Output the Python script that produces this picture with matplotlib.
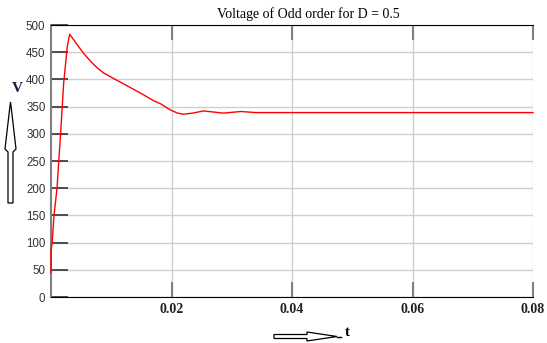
import matplotlib
matplotlib.use("Agg")
import matplotlib.pyplot as plt
from matplotlib.patches import Polygon
from matplotlib.transforms import IdentityTransform

t = [0, 0, 0.0002, 0.0005, 0.001, 0.0013, 0.0016, 0.0021, 0.0027, 0.0031,
     0.0042, 0.0054, 0.0066, 0.0077, 0.0087, 0.011, 0.013, 0.015, 0.017,
     0.0182, 0.0198, 0.021, 0.022, 0.0235, 0.0253, 0.027, 0.0286, 0.0315,
     0.034, 0.08]
v = [45, 85, 101, 150, 200, 252, 301, 393, 460, 483,
     466, 448, 433, 421, 412, 398, 386, 374, 361,
     355, 344, 338, 336, 338, 342, 340, 338, 341,
     339, 339]
xticks = [0.02, 0.04, 0.06, 0.08]
xticklabels = ["0.02", "0.04", "0.06", "0.08"]
yticks = [0, 50, 100, 150, 200, 250, 300, 350, 400, 450, 500]

W, H = 547, 343
fig = plt.figure(figsize=(W / 100, H / 100), dpi=100)
L, R, T, B = 51, 533, 25, 297
ax = fig.add_axes([L / W, 1 - B / H, (R - L) / W, (B - T) / H])

ax.plot(t, v, color="#ff0000", lw=1.0, clip_on=False, zorder=5)
ax.set_xlim(0, 0.08)
ax.set_ylim(0, 500)

ax.set_xticks(xticks)
ax.set_xticklabels(xticklabels, fontfamily="Liberation Serif",
                   fontweight="bold", fontsize=10, color="#222222")
ax.set_yticks(yticks)
ax.set_yticklabels([str(y) for y in yticks], fontfamily="Liberation Sans",
                   fontsize=8.3, color="#333333")
ax.tick_params(axis="x", direction="in", length=11, width=1.5,
               color="#808080", top=True, pad=4)
ax.tick_params(axis="y", direction="in", length=12, width=1.2,
               color="#333333", pad=4)
ax.grid(True, color="#d0d0d0", lw=1.0)
ax.set_axisbelow(True)

ax.spines["right"].set_visible(False)
ax.spines["top"].set_color("black")
ax.spines["bottom"].set_color("black")
ax.spines["left"].set_color("#808080")
ax.spines["left"].set_linewidth(1.5)

fig.text(308 / W, 1 - 14 / H, "Voltage of Odd order for D = 0.5",
         fontfamily="Liberation Serif", fontsize=10, ha="center", va="center")
fig.text(17 / W, 1 - 88 / H, "V", fontfamily="Liberation Serif",
         fontweight="bold", fontsize=11, color="#1a1a40", ha="center", va="center")
fig.text(347 / W, 1 - 333 / H, "t", fontfamily="Liberation Serif",
         fontweight="bold", fontsize=10.5, ha="center", va="center")

def px(pts):
    return [(x, H - y) for x, y in pts]

up = px([(8, 203), (13, 203), (13, 152), (16, 149), (11.5, 110), (10.5, 102),
         (9.5, 110), (5, 149), (8, 152)])
right = px([(274, 334.5), (307, 334.5), (307, 332), (337, 336.5), (307, 341),
            (307, 338.5), (274, 338.5)])
for pts in (up, right):
    fig.add_artist(Polygon(pts, closed=True, fill=False, edgecolor="black",
                           lw=0.9, transform=IdentityTransform()))
fig.add_artist(plt.Line2D([337, 341], [H - 336.5, H - 336.5], color="black",
                          lw=1, transform=IdentityTransform()))

fig.savefig("out.png", dpi=100)
